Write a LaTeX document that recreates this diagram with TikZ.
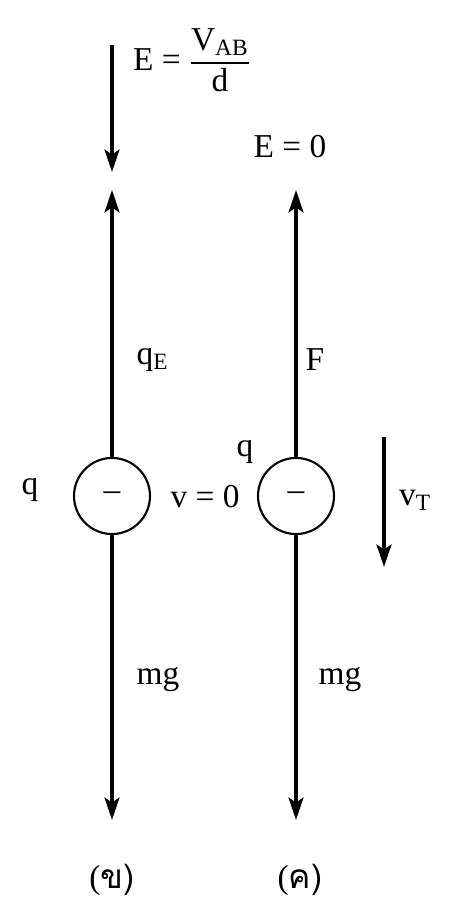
\documentclass[tikz,border=0pt]{standalone}
\usepackage{amsmath}
\usepackage{fontspec}
\setmainfont{Liberation Serif}
\newfontfamily\thaifont[Script=Thai]{Loma}
\usepackage{tikz}
\usetikzlibrary{arrows.meta}

\begin{document}
\begin{tikzpicture}[
    charge/.style={circle, draw, line width=1.2pt, minimum size=1.52cm, inner sep=0pt, font=\fontsize{19}{21}\selectfont},
    lbl/.style={font=\fontsize{19}{21}\selectfont, inner sep=1pt},
    arrow/.style={-{Stealth[length=0.45cm,width=0.3cm,inset=0.1cm]},line width=1.8pt}
]
    \useasboundingbox (0,0) rectangle (9.04,18.06);

    % field E (left)
    \coordinate (etop) at (2.24,17.16);
    \coordinate (ebot) at (2.24,14.62);
    \node[lbl, anchor=west] (efield) at (2.62,16.86) {E = $\dfrac{\text{V}_{\text{AB}}}{\text{d}}$};
    \node[lbl] (ezero) at (5.8,15.12) {E = 0};

    % charges
    \node[charge] (qb) at (2.24,8.14) {--};
    \node[charge] (qc) at (5.92,8.14) {--};

    \coordinate (upb) at (2.24,14.26);
    \coordinate (upc) at (5.92,14.26);
    \coordinate (dnb) at (2.24,1.66);
    \coordinate (dnc) at (5.92,1.66);
    \coordinate (vtop) at (7.68,9.32);
    \coordinate (vbot) at (7.68,6.72);

    \node[lbl] (qe) at (3.05,10.86) {q\textsubscript{E}};
    \node[lbl] (force) at (6.3,10.86) {F};
    \node[lbl] (mgb) at (3.16,4.46) {mg};
    \node[lbl] (mgc) at (6.8,4.46) {mg};
    \node[lbl] (qlb) at (0.6,8.26) {q};
    \node[lbl] (vzero) at (4.1,8.12) {v = 0};
    \node[lbl] (qlc) at (4.9,9.02) {q};
    \node[lbl] (vt) at (8.3,8.06) {v\textsubscript{T}};

    \node[lbl] (capb) at (2.24,0.46) {(\thaifont ข)};
    \node[lbl] (capc) at (6.0,0.46) {(\thaifont ค)};

    \draw[arrow] (etop) -- (ebot);
    \draw[arrow] (qb) -- (upb);
    \draw[arrow] (qc) -- (upc);
    \draw[arrow] (qb) -- (dnb);
    \draw[arrow] (qc) -- (dnc);
    \draw[arrow] (vtop) -- (vbot);
\end{tikzpicture}
\end{document}
